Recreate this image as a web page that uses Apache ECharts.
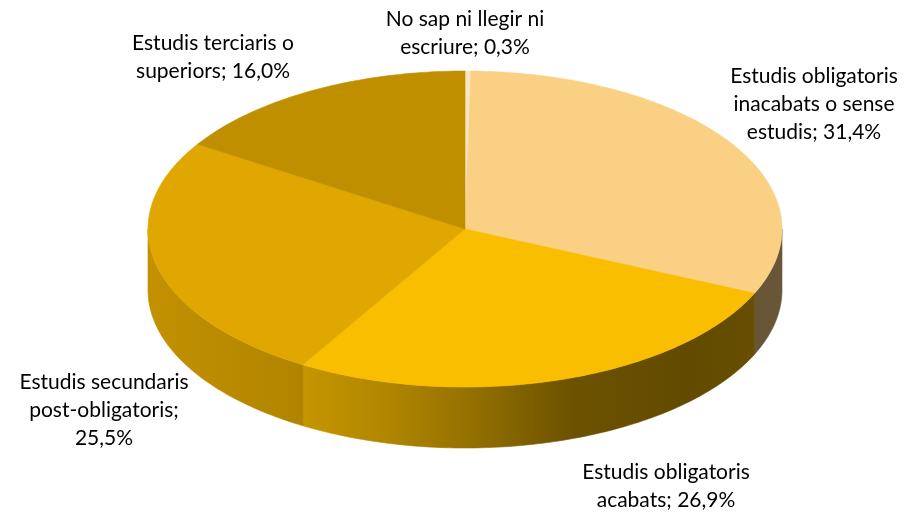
<!DOCTYPE html>
<html>
<head>
<meta charset="utf-8">
<script src="https://cdn.jsdelivr.net/npm/echarts@6/dist/echarts.min.js"></script>
<style>
  html, body { margin: 0; padding: 0; background: #fff; }
  #chart { width: 910px; height: 514px; }
</style>
</head>
<body>
<div id="chart"></div>
<script>
// dades
const names = [
  'No sap ni llegir ni\nescriure',
  'Estudis obligatoris\ninacabats o sense\nestudis',
  'Estudis obligatoris\nacabats',
  'Estudis secundaris\npost-obligatoris',
  'Estudis terciaris o\nsuperiors',
]
const values = [0.3, 31.4, 26.9, 25.5, 16.0]
const separators = ['; ', '; ', '; ', ';\n', '; ']

const colors = ['#FCE6C2', '#F9D084', '#FABE00', '#E0A700', '#BF8F00']
// centre de cada etiqueta
const labelPos = [[465, 33], [814, 104], [666, 486], [104, 410], [213, 57]]

// geometria del pastís 3D
const cx = 465, cy = 229, rx = 317, ry = 158, depth = 61
const total = values.reduce((a, b) => a + b, 0)
const startAngles = []
let acc = 0
values.forEach(v => { startAngles.push(acc / total * 360); acc += v })

function pt(phi, dy) {
  const r = phi * Math.PI / 180
  return [cx + rx * Math.sin(r), cy - ry * Math.cos(r) + (dy || 0)]
}
function arc(a0, a1, dy) {
  const n = Math.max(2, Math.ceil(Math.abs(a1 - a0)))
  const out = []
  for (let i = 0; i <= n; i++) out.push(pt(a0 + (a1 - a0) * i / n, dy))
  return out
}
function shade(hex, f) {
  const n = parseInt(hex.slice(1), 16)
  const c = [(n >> 16) & 255, (n >> 8) & 255, n & 255].map(v => Math.round(v * f))
  return 'rgb(' + c.join(',') + ')'
}
// llum lateral: més clar a l'esquerra, fosc a la dreta
const light = [[0, 0.87], [0.24, 0.79], [0.37, 0.71], [0.5, 0.6], [0.67, 0.43], [0.85, 0.39], [1, 0.42]]
function sideFill(color) {
  return {
    type: 'linear', x: cx - rx, y: 0, x2: cx + rx, y2: 0, global: true,
    colorStops: light.map(s => ({ offset: s[0], color: shade(color, s[1]) })),
  }
}
function fmt(v) {
  return v.toFixed(1).replace('.', ',') + '%'
}

const myChart = echarts.init(document.getElementById('chart'))
myChart.setOption({
  animation: false,
  series: [
    {
      type: 'custom',
      coordinateSystem: 'none',
      data: values,
      renderItem: function(params, api) {
        const i = params.dataIndex
        const a0 = startAngles[i]
        const a1 = a0 + api.value(0) / total * 360
        const color = colors[i]
        const children = []
        // paret frontal
        const s0 = Math.max(a0, 90), s1 = Math.min(a1, 270)
        if (s1 > s0) {
          const side = sideFill(color)
          children.push({
            type: 'polygon',
            shape: { points: arc(s0, s1, 0).concat(arc(s1, s0, depth)) },
            style: { fill: side, stroke: side, lineWidth: 0.6 },
          })
        }
        // cara superior
        children.push({
          type: 'polygon',
          shape: { points: [[cx, cy]].concat(arc(a0, a1, 0)) },
          style: { fill: color, stroke: color, lineWidth: 0.6 },
        })
        children.push({
          type: 'text',
          x: labelPos[i][0],
          y: labelPos[i][1],
          z2: 10,
          style: {
            text: names[i] + separators[i] + fmt(api.value(0)),
            font: '21px Lato',
            fill: '#000',
            align: 'center',
            verticalAlign: 'middle',
            lineHeight: 28,
          },
        })
        return { type: 'group', children: children }
      },
    },
  ],
})
window.addEventListener('resize', () => {
  myChart.resize()
})
</script>
</body>
</html>
